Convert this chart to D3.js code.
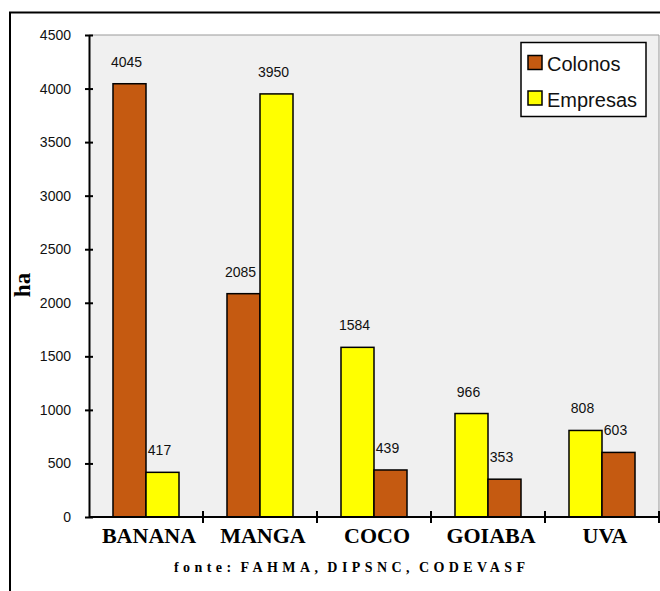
<!DOCTYPE html>
<html><head><meta charset="utf-8">
<script src="https://cdn.jsdelivr.net/npm/d3@7"></script>
<style>body{margin:0;background:#fff}svg{display:block}</style>
</head><body>
<script>
const categories = ["BANANA","MANGA","COCO","GOIABA","UVA"];
const colonos  = [4045, 2085, 439, 353, 603];
const empresas = [417, 3950, 1584, 966, 808];
const firstSeries = ["Colonos","Colonos","Empresas","Empresas","Empresas"];
const seriesNames = ["Colonos","Empresas"];
const yTicks = [0,500,1000,1500,2000,2500,3000,3500,4000,4500];
const sourceText = "fonte: FAHMA, DIPSNC, CODEVASF";

const W = 660, H = 591;
const colors = {Colonos:"#C55A11", Empresas:"#FFFF00"};
const svg = d3.select("body").append("svg").attr("width",W).attr("height",H);

// outer border
svg.append("rect").attr("x",10).attr("y",12.5).attr("width",700).attr("height",700)
  .attr("fill","none").attr("stroke","#000").attr("stroke-width",2);

const L=89, R=659, T=35, B=517;
const x0 = d3.scaleBand().domain(categories).range([L,R]).padding(0);
const x1 = d3.scaleBand().domain([0,1]).range([0,x0.bandwidth()]).paddingInner(0).paddingOuter(0.727);
const y = d3.scaleLinear().domain([0,4500]).range([B,T]);

svg.append("rect").attr("x",L).attr("y",T).attr("width",R-L).attr("height",B-T).attr("fill","#f0f0f0");
svg.append("path").attr("d",`M${L},${T}H${R}V${B}`).attr("fill","none").attr("stroke","#999").attr("stroke-width",1);

const rows = categories.map((c,i)=>{
  const vals = {Colonos:colonos[i], Empresas:empresas[i]};
  const order = firstSeries[i]==="Colonos" ? ["Colonos","Empresas"] : ["Empresas","Colonos"];
  return {c, bars: order.map((s,k)=>({s,k,v:vals[s]}))};
});

const g = svg.selectAll("g.cat").data(rows).join("g").attr("class","cat")
  .attr("transform",d=>`translate(${x0(d.c)},0)`);
g.selectAll("rect").data(d=>d.bars).join("rect")
  .attr("x",d=>x1(d.k)).attr("width",x1.bandwidth())
  .attr("y",d=>y(d.v)).attr("height",d=>B-y(d.v))
  .attr("fill",d=>colors[d.s]).attr("stroke","#000").attr("stroke-width",1.5);
g.selectAll("text").data(d=>d.bars).join("text")
  .attr("x",d=>x1(d.k)+x1.bandwidth()/2-3).attr("y",d=>y(d.v)-17)
  .attr("text-anchor","middle").attr("font-family","Liberation Sans, Arial, sans-serif")
  .attr("font-size",14).attr("fill","#111").text(d=>d.v);

// y axis
const ya = svg.append("g").attr("transform",`translate(${L},0)`)
  .call(d3.axisLeft(y).tickValues(yTicks).tickFormat(d3.format("d")).tickSizeInner(4).tickSizeOuter(0).tickPadding(14));
ya.select(".domain").attr("stroke","#000").attr("stroke-width",2);
ya.selectAll(".tick line").attr("x2",4).attr("x1",-4).attr("stroke","#000").attr("stroke-width",2);
ya.selectAll(".tick text").attr("font-family","Liberation Sans, Arial, sans-serif").attr("font-size",14).attr("fill","#111");

// x axis
svg.append("line").attr("x1",L).attr("x2",W).attr("y1",B).attr("y2",B).attr("stroke","#000").attr("stroke-width",2);
svg.selectAll("line.xt").data(categories.slice(1).concat(["end"])).join("line").attr("class","xt")
  .attr("x1",(d,i)=>L+x0.step()*(i+1)).attr("x2",(d,i)=>L+x0.step()*(i+1))
  .attr("y1",B-6).attr("y2",B+6).attr("stroke","#000").attr("stroke-width",2);
svg.selectAll("text.cl").data(categories).join("text").attr("class","cl")
  .attr("x",d=>x0(d)+x0.bandwidth()/2+3).attr("y",542.5).attr("text-anchor","middle")
  .attr("font-family","Liberation Serif, Times New Roman, serif").attr("font-weight","bold")
  .attr("font-size",22).text(d=>d);

// y label
svg.append("text").attr("transform","translate(30,285) rotate(-90)").attr("text-anchor","middle")
  .attr("font-family","Liberation Serif, Times New Roman, serif").attr("font-weight","bold")
  .attr("font-size",23).text("ha");

// source
const src = svg.append("text").attr("x",174).attr("y",571.5)
  .attr("font-family","Liberation Serif, Times New Roman, serif").attr("font-weight","bold")
  .attr("font-size",14).style("word-spacing","-3px").text(sourceText);
const len0 = src.node().getComputedTextLength();
const n = sourceText.length;
src.style("letter-spacing", ((351 - len0)/(n-1)).toFixed(2)+"px");

// legend
const lg = svg.append("g");
lg.append("rect").attr("x",521).attr("y",42.5).attr("width",125).attr("height",74)
  .attr("fill","#fff").attr("stroke","#000").attr("stroke-width",1.5);
seriesNames.forEach((s,i)=>{
  lg.append("rect").attr("x",528).attr("y",55.5+i*35.5).attr("width",14).attr("height",14)
    .attr("fill",colors[s]).attr("stroke","#000").attr("stroke-width",1.5);
  lg.append("text").attr("x",547).attr("y",71+i*36).attr("font-family","Liberation Sans, Arial, sans-serif")
    .attr("font-size",20).attr("fill","#111").text(s);
});
</script>
</body></html>
